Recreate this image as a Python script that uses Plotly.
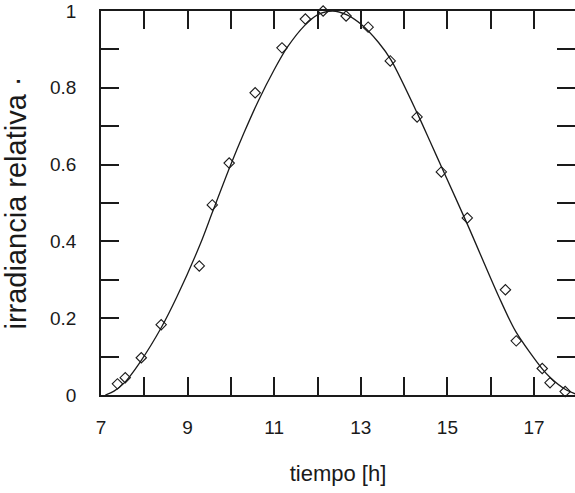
import plotly.graph_objects as go

# measured data points (tiempo [h], irradiancia relativa)
hours = [7.38, 7.56, 7.93, 8.39, 9.27, 9.57, 9.96, 10.56, 11.18, 11.72, 12.13,
         12.66, 13.17, 13.68, 14.30, 14.86, 15.46, 16.34, 16.59, 17.19, 17.37, 17.72]
irradiance = [0.029, 0.045, 0.097, 0.183, 0.336, 0.495, 0.604, 0.787, 0.904, 0.979, 1.0,
              0.987, 0.958, 0.870, 0.724, 0.581, 0.461, 0.274, 0.141, 0.069, 0.032, 0.009]

# fitted curve
curve_hours = [7.1, 7.3, 7.55, 7.9, 8.39, 8.75, 9.3, 9.57, 9.98, 10.3, 10.63, 10.99, 11.3,
               11.7, 12.0, 12.35, 12.68, 13.0, 13.41, 13.70, 14.34, 14.6, 14.86, 15.46,
               16.18, 16.58, 17.19, 17.38, 17.72, 17.95]
curve_values = [0.0, 0.01, 0.033, 0.085, 0.175, 0.255, 0.395, 0.475, 0.595, 0.682, 0.765, 0.845,
                0.905, 0.962, 0.99, 1.0, 0.99, 0.966, 0.918, 0.872, 0.725, 0.66, 0.595, 0.445,
                0.258, 0.165, 0.068, 0.045, 0.015, 0.003]

x_tickvals = list(range(7, 19))
x_ticktext = [str(v) if (v % 2 == 1) else "" for v in x_tickvals]
y_tickvals = [i / 10 for i in range(11)]
y_ticktext = ["0", "", "0.2", "", "0.4", "", "0.6", "", "0.8", "", "1"]

FONT = "Liberation Sans, Arial, sans-serif"
INK = "#1a1a1a"

fig = go.Figure()
fig.add_trace(go.Scatter(x=curve_hours, y=curve_values, mode="lines",
                         line=dict(color=INK, width=1.3, shape="spline", smoothing=0.8),
                         hoverinfo="skip", showlegend=False))
fig.add_trace(go.Scatter(x=hours, y=irradiance, mode="markers",
                         marker=dict(symbol="diamond-open", size=8, color=INK,
                                     line=dict(width=1.1, color=INK)),
                         showlegend=False, cliponaxis=False))

axis_common = dict(showgrid=False, zeroline=False, showline=True, linecolor=INK,
                   linewidth=1.5, mirror="ticks", ticks="inside", ticklen=18,
                   tickwidth=1.5, tickcolor=INK, ticklabeloverflow="allow",
                   automargin=False,
                   tickfont=dict(family=FONT, size=19, color=INK))

fig.update_xaxes(range=[7, 17.947], tickmode="array", tickvals=x_tickvals,
                 ticktext=x_ticktext, ticklabelstandoff=14,
                 title=dict(text="tiempo [h]", font=dict(family=FONT, size=22, color=INK),
                            standoff=29),
                 **axis_common)
fig.update_yaxes(range=[0, 1], tickmode="array", tickvals=y_tickvals,
                 ticktext=y_ticktext, ticklabelstandoff=19,
                 title=dict(text="irradiancia relativa ·",
                            font=dict(family=FONT, size=29, color=INK), standoff=25),
                 **axis_common)

fig.update_layout(width=575, height=493, autosize=False,
                  margin=dict(l=101, r=0, t=11, b=98),
                  paper_bgcolor="white", plot_bgcolor="white")

fig.write_html("out.html", config={"displayModeBar": False},
               post_script="document.body.style.margin='0';")
